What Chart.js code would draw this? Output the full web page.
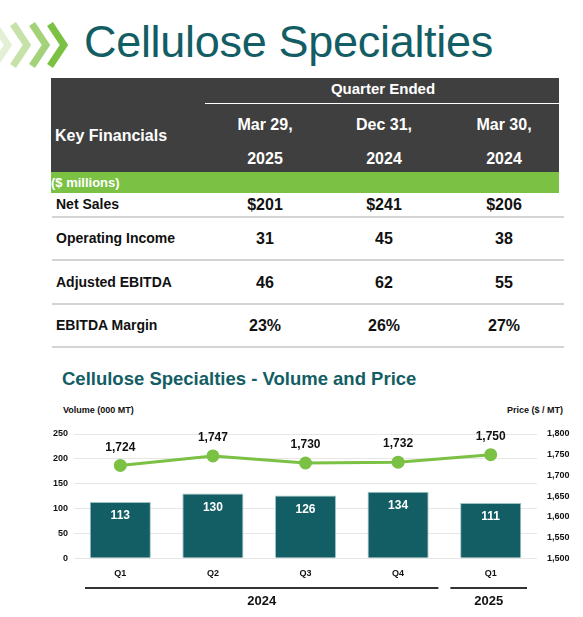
<!DOCTYPE html>
<html>
<head>
<meta charset="utf-8">
<script src="https://cdn.jsdelivr.net/npm/chart.js@4"></script>
<style>
  body { margin: 0; width: 583px; height: 617px; background: #fff; font-family: "Liberation Sans", Arial, sans-serif; position: relative; overflow: hidden; }
  .abs { position: absolute; }
  .title { left: 84px; top: 16px; font-size: 45px; color: #135e64; letter-spacing: -0.3px; }
  .tbl { left: 51px; top: 78px; width: 508px; }
  .dark { position: absolute; left: 0; top: 0; width: 508px; height: 94px; background: #3f3f3f; }
  .green { position: absolute; left: 0; top: 94px; width: 508px; height: 21px; background: #7bc143; }
  .w { color: #fff; font-weight: bold; font-size: 15px; position: absolute; transform: translateX(-50%); white-space: nowrap; }
  .cell { position: absolute; font-weight: bold; font-size: 15px; color: #111; white-space: nowrap; }
  .c { transform: translateX(-50%); }
  .sep { position: absolute; left: 1px; width: 512px; height: 2px; background: #d4d4d4; }
  .sub { left: 62px; top: 368px; font-size: 18.5px; font-weight: bold; color: #135e64; }
  .axt { top: 405px; font-size: 9px; font-weight: bold; color: #111; }
  #wrap { position: absolute; left: 40px; top: 400px; width: 543px; height: 217px; }
</style>
</head>
<body>
<svg class="abs" style="left:0;top:22px" width="70" height="50">
  <polyline points="-6,2 8,23 -6,44" fill="none" stroke="#e3f0d5" stroke-width="7"/>
  <polyline points="13,2 27,23 13,44" fill="none" stroke="#c6e2a8" stroke-width="7"/>
  <polyline points="32,2 46,23 32,44" fill="none" stroke="#a4d27a" stroke-width="7"/>
  <polyline points="50,2 64,23 50,44" fill="none" stroke="#7bc143" stroke-width="7"/>
</svg>
<div class="abs title">Cellulose Specialties</div>

<div class="abs tbl" id="tbl">
  <div class="dark"></div>
  <div class="green"></div>
  <div class="abs" style="left:154px;top:25px;width:354px;height:1px;background:#fff"></div>
  <div class="w" style="left:332px;top:2px">Quarter Ended</div>
  <div class="w" style="left:0;top:49px;transform:none;font-size:16px;padding-left:4px">Key Financials</div>
  <div class="cell" style="left:0;top:97px;font-size:13px;color:#fff">($ millions)</div>
</div>

<div class="abs sub">Cellulose Specialties - Volume and Price</div>
<div class="abs axt" style="left:63px">Volume (000 MT)</div>
<div class="abs axt" style="right:20px">Price ($ / MT)</div>

<div id="wrap"><canvas id="chart"></canvas></div>

<script>
const headerTop = ["Mar 29,", "Dec 31,", "Mar 30,"];
const headerBottom = ["2025", "2024", "2024"];
const rowLabels = ["Net Sales", "Operating Income", "Adjusted EBITDA", "EBITDA Margin"];
const netSales = ["$201", "$241", "$206"];
const operatingIncome = ["31", "45", "38"];
const adjustedEbitda = ["46", "62", "55"];
const ebitdaMargin = ["23%", "26%", "27%"];

const quarters = ["Q1", "Q2", "Q3", "Q4", "Q1"];
const years = ["2024", "2025"];
const yearSpans = [[0, 3], [4, 4]];
const volume = [113, 130, 126, 134, 111];
const price = [1724, 1747, 1730, 1732, 1750];

// --- 표 만들기 ---
const tbl = document.getElementById("tbl");
const colX = [214, 333, 453];
const rowY = [118, 152, 196, 239];
const sepY = [138, 181, 225, 268];
const rows = [netSales, operatingIncome, adjustedEbitda, ebitdaMargin];
let html = "";
colX.forEach((x, i) => {
  html += `<div class="w" style="left:${x}px;top:38px;font-size:16px">${headerTop[i]}</div>`;
  html += `<div class="w" style="left:${x}px;top:72px;font-size:16px">${headerBottom[i]}</div>`;
});
rows.forEach((vals, r) => {
  html += `<div class="cell" style="left:5px;top:${rowY[r]}px;font-size:14px">${rowLabels[r]}</div>`;
  vals.forEach((v, i) => {
    html += `<div class="cell c" style="left:${colX[i]}px;top:${rowY[r]}px;font-size:16px">${v}</div>`;
  });
  html += `<div class="sep" style="top:${sepY[r]}px"></div>`;
});
tbl.insertAdjacentHTML("beforeend", html);

// --- 값 라벨 + 연도 그룹 ---
const labelPlugin = {
  id: "labels",
  afterDatasetsDraw(chart) {
    const ctx = chart.ctx;
    ctx.save();
    ctx.textAlign = "center";
    ctx.textBaseline = "middle";
    ctx.font = "bold 12px 'Liberation Sans', Arial";
    chart.getDatasetMeta(1).data.forEach((bar, i) => {
      ctx.fillStyle = "#fff";
      ctx.fillText(volume[i], bar.x, bar.y + 14);
    });
    chart.getDatasetMeta(0).data.forEach((pt, i) => {
      ctx.fillStyle = "#111";
      ctx.fillText(price[i].toLocaleString("en-US"), pt.x, pt.y - 18);
    });
    const x = chart.scales.x;
    const half = (x.getPixelForValue(1) - x.getPixelForValue(0)) / 2;
    yearSpans.forEach(([a, b], i) => {
      const x0 = x.getPixelForValue(a) - half + (i ? 6 : 11);
      const x1 = x.getPixelForValue(b) + half - (i ? 10 : 6);
      ctx.fillStyle = "#333";
      ctx.fillRect(x0, 187, x1 - x0, 2);
      ctx.font = "bold 13px 'Liberation Sans', Arial";
      ctx.fillStyle = "#111";
      ctx.fillText(years[i], (x0 + x1) / 2, 201);
    });
    ctx.restore();
  },
};

new Chart(document.getElementById("chart"), {
  data: {
    labels: quarters,
    datasets: [
      {
        type: "line",
        data: price,
        yAxisID: "y1",
        borderColor: "#7bc143",
        backgroundColor: "#7bc143",
        borderWidth: 3,
        pointRadius: 5,
        order: 0,
      },
      {
        type: "bar",
        data: volume,
        yAxisID: "y",
        backgroundColor: "#135e64",
        borderColor: "#9fc3c5",
        borderWidth: 1,
        barPercentage: 0.66,
        categoryPercentage: 1,
        order: 1,
      },
    ],
  },
  options: {
    responsive: true,
    maintainAspectRatio: false,
    animation: false,
    layout: { padding: { top: 34, bottom: 36 } },
    plugins: { legend: { display: false }, tooltip: { enabled: false } },
    scales: {
      x: {
        grid: { display: false },
        border: { display: false },
        ticks: { color: "#111", font: { size: 9, weight: "bold" }, padding: 2 },
      },
      y: {
        position: "left",
        min: 0, max: 250,
        ticks: { stepSize: 50, color: "#111", font: { size: 9, weight: "bold" }, padding: 6 },
        grid: { color: "#e6e6e6", drawTicks: false },
        border: { display: false },
        afterFit(s) { s.width = 34; },
      },
      y1: {
        position: "right",
        min: 1500, max: 1800,
        ticks: {
          stepSize: 50, color: "#111", font: { size: 9, weight: "bold" }, padding: 10,
          callback: (v) => v.toLocaleString("en-US"),
        },
        grid: { display: false, drawTicks: false },
        border: { display: false },
        afterFit(s) { s.width = 46; },
      },
    },
  },
  plugins: [labelPlugin],
});
</script>
</body>
</html>
